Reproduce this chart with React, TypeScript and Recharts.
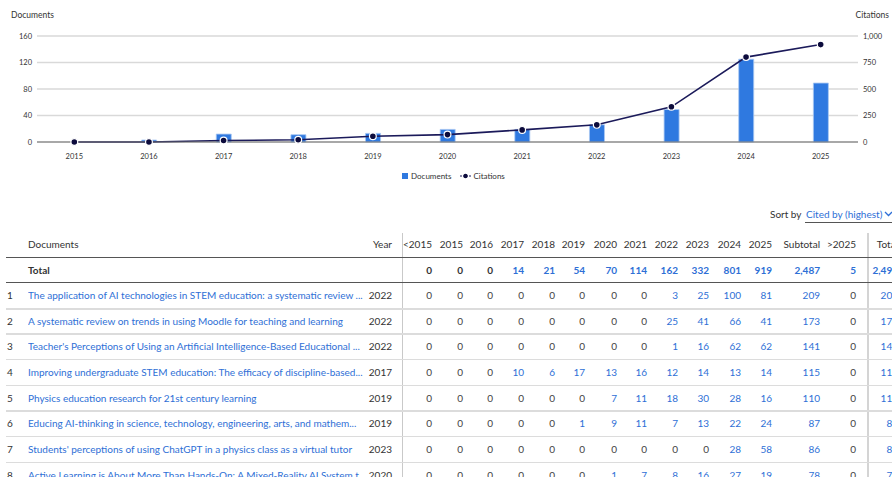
import React from "react";
import { ComposedChart, Bar, Line, XAxis, YAxis, CartesianGrid } from "recharts";

const years = ["2015", "2016", "2017", "2018", "2019", "2020", "2021", "2022", "2023", "2024", "2025"];
const documents = [0, 3, 12, 11, 13, 19, 19, 26, 49, 125, 89];
const citations = [0, 0, 14, 21, 54, 70, 114, 162, 332, 801, 919];
const docTicks = [0, 40, 80, 120, 160];
const citeTicks = [0, 250, 500, 750, 1000];

const tableColumns = ["<2015", "2015", "2016", "2017", "2018", "2019", "2020", "2021", "2022", "2023", "2024", "2025", "Subtotal", ">2025", "Total"];
const totalRow = [0, 0, 0, 14, 21, 54, 70, 114, 162, 332, 801, 919, 2487, 5, 2492];
const docTitles = [
  "The application of AI technologies in STEM education: a systematic review ...",
  "A systematic review on trends in using Moodle for teaching and learning",
  "Teacher's Perceptions of Using an Artificial Intelligence-Based Educational ...",
  "Improving undergraduate STEM education: The efficacy of discipline-based...",
  "Physics education research for 21st century learning",
  "Educing AI-thinking in science, technology, engineering, arts, and mathem...",
  "Students' perceptions of using ChatGPT in a physics class as a virtual tutor",
  "Active Learning is About More Than Hands-On: A Mixed-Reality AI System t...",
];
const docYears = [2022, 2022, 2022, 2017, 2019, 2019, 2023, 2020];
const docCounts = [
  [0, 0, 0, 0, 0, 0, 0, 0, 3, 25, 100, 81, 209, 0, 209],
  [0, 0, 0, 0, 0, 0, 0, 0, 25, 41, 66, 41, 173, 0, 173],
  [0, 0, 0, 0, 0, 0, 0, 0, 1, 16, 62, 62, 141, 0, 141],
  [0, 0, 0, 10, 6, 17, 13, 16, 12, 14, 13, 14, 115, 0, 115],
  [0, 0, 0, 0, 0, 0, 7, 11, 18, 30, 28, 16, 110, 0, 110],
  [0, 0, 0, 0, 0, 1, 9, 11, 7, 13, 22, 24, 87, 0, 87],
  [0, 0, 0, 0, 0, 0, 0, 0, 0, 0, 28, 58, 86, 0, 86],
  [0, 0, 0, 0, 0, 0, 1, 7, 8, 16, 27, 19, 78, 0, 78],
];

const chartData = years.map((year, i) => ({
  year,
  documents: documents[i],
  citations: citations[i],
}));

const BLUE = "#2f79e0";
const NAVY = "#1b1a5a";
const LINK = "#2e6fd6";
const TEXT = "#333333";
const FONT = "Lato, 'Liberation Sans', sans-serif";

// right edge of each numeric column in the table
const colRight = [432, 463, 493, 524, 555, 585, 617, 647, 678, 709, 741, 772, 820, 856, 898];
const ROW_H = 25.65;
const HEAD_Y = 244;
const TOTAL_Y = 269.5;
const FIRST_ROW_Y = 295;

const fmt = (v: number) => v.toLocaleString("en-US");

const Cell = ({ right, y, children, color = TEXT, bold = false }: any) => (
  <div
    style={{
      position: "absolute",
      left: right - 70,
      width: 70,
      top: y - 8,
      height: 16,
      lineHeight: "16px",
      textAlign: "right",
      fontSize: 10,
      color,
      fontWeight: bold ? 700 : 400,
      whiteSpace: "nowrap",
    }}
  >
    {children}
  </div>
);

const HLine = ({ y, color, thick = 1 }: { y: number; color: string; thick?: number }) => (
  <div style={{ position: "absolute", left: 6, right: 0, top: y, height: thick, background: color }} />
);

const Chart = () => (
  <ComposedChart
    width={892}
    height={160}
    data={chartData}
    margin={{ top: 36, right: 0, left: 0, bottom: 0 }}
    barCategoryGap={0}
  >
    <CartesianGrid yAxisId="left" vertical={false} stroke="#d9d9d9" strokeWidth={1.5} />
    <XAxis
      dataKey="year"
      height={18}
      tickLine={false}
      tickMargin={6}
      axisLine={{ stroke: "#6f6f6f", strokeWidth: 1 }}
      tick={{ fontSize: 7.5, fill: TEXT, fontFamily: FONT }}
      interval={0}
    />
    <YAxis
      yAxisId="left"
      width={37}
      domain={[0, 160]}
      ticks={docTicks}
      tickLine={false}
      axisLine={false}
      tickSize={3}
      tickMargin={2}
      tick={{ fontSize: 7.5, fill: TEXT, fontFamily: FONT }}
    />
    <YAxis
      yAxisId="right"
      orientation="right"
      width={34}
      domain={[0, 1000]}
      ticks={citeTicks}
      tickLine={false}
      axisLine={false}
      tickSize={3}
      tickMargin={2}
      tickFormatter={fmt}
      tick={{ fontSize: 7.5, fill: TEXT, fontFamily: FONT }}
    />
    <Bar
      yAxisId="left"
      dataKey="documents"
      name="Documents"
      fill={BLUE}
      stroke="#a9c8f3"
      strokeWidth={0.8}
      barSize={15}
      isAnimationActive={false}
    />
    <Line
      yAxisId="right"
      type="linear"
      dataKey="citations"
      name="Citations"
      stroke={NAVY}
      strokeWidth={1.6}
      dot={{ r: 3.4, fill: "#0c0b3c", stroke: "#ffffff", strokeWidth: 1.2 }}
      isAnimationActive={false}
    />
  </ComposedChart>
);

export default function App() {
  return (
    <div
      style={{
        position: "absolute",
        left: 0,
        top: 0,
        width: 892,
        height: 477,
        overflow: "hidden",
        background: "#fff",
        fontFamily: FONT,
        color: TEXT,
      }}
    >
      <div style={{ position: "absolute", left: 0, top: 0 }}>
        <Chart />
      </div>
      <div style={{ position: "absolute", left: 11, top: 10, fontSize: 8.5, color: TEXT }}>Documents</div>
      <div style={{ position: "absolute", right: 3, top: 10, fontSize: 8.5, color: TEXT }}>Citations</div>

      {/* legend */}
      <div style={{ position: "absolute", left: 402, top: 170, fontSize: 8, color: TEXT, display: "flex", alignItems: "center", height: 12 }}>
        <span style={{ width: 6, height: 6, background: BLUE, display: "inline-block", marginRight: 3 }} />
        <span style={{ marginRight: 9 }}>Documents</span>
        <svg width={11} height={6} style={{ marginRight: 2 }}>
          <line x1={0} y1={3} x2={11} y2={3} stroke={NAVY} strokeWidth={1} strokeDasharray="2 1" />
          <circle cx={5.5} cy={3} r={2.2} fill="#0c0b3c" />
        </svg>
        <span>Citations</span>
      </div>

      {/* sort by */}
      <div style={{ position: "absolute", left: 770, top: 206, fontSize: 10, color: TEXT, lineHeight: "16px" }}>Sort by</div>
      <div style={{ position: "absolute", left: 806, top: 206, fontSize: 10, color: LINK, lineHeight: "16px", whiteSpace: "nowrap" }}>
        Cited by (highest)
      </div>
      <svg style={{ position: "absolute", left: 884, top: 211 }} width={9} height={6}>
        <polyline points="1,1 4.5,4.5 8,1" fill="none" stroke={LINK} strokeWidth={1.3} />
      </svg>
      <div style={{ position: "absolute", left: 805, right: 0, top: 222, height: 1, background: "#555" }} />

      {/* table lines */}
      <div style={{ position: "absolute", left: 402, top: 233, bottom: 0, width: 1, background: "#c9c9c9" }} />
      <div style={{ position: "absolute", left: 867, top: 233, bottom: 0, width: 2, background: "#d4d4d4" }} />
      <HLine y={257} color="#555555" />
      <HLine y={282} color="#555555" />
      {docTitles.map((_, i) => (
        <HLine key={i} y={282 + ROW_H * (i + 1)} color="#dcdcdc" thick={i === 0 ? 2 : 1.5} />
      ))}

      {/* header */}
      <div style={{ position: "absolute", left: 28, top: HEAD_Y - 8, fontSize: 10, lineHeight: "16px" }}>Documents</div>
      <Cell right={392} y={HEAD_Y}>Year</Cell>
      {tableColumns.map((c, j) => (
        <Cell key={c} right={colRight[j]} y={HEAD_Y}>
          {c}
        </Cell>
      ))}

      {/* total row */}
      <div style={{ position: "absolute", left: 28, top: TOTAL_Y - 8, fontSize: 10, lineHeight: "16px", fontWeight: 700 }}>Total</div>
      {totalRow.map((v, j) => (
        <Cell key={j} right={colRight[j]} y={TOTAL_Y} bold color={v === 0 ? TEXT : LINK}>
          {fmt(v)}
        </Cell>
      ))}

      {/* document rows */}
      {docTitles.map((title, i) => {
        const y = FIRST_ROW_Y + ROW_H * i;
        return (
          <React.Fragment key={title}>
            <div style={{ position: "absolute", left: 7, top: y - 8, fontSize: 10, lineHeight: "16px" }}>{i + 1}</div>
            <div
              style={{
                position: "absolute",
                left: 28,
                top: y - 8,
                width: 335,
                overflow: "hidden",
                whiteSpace: "nowrap",
                fontSize: 10,
                lineHeight: "16px",
                color: LINK,
              }}
            >
              {title}
            </div>
            <Cell right={392} y={y}>{docYears[i]}</Cell>
            {docCounts[i].map((v, j) => (
              <Cell key={j} right={colRight[j]} y={y} color={v === 0 ? "#444" : LINK}>
                {fmt(v)}
              </Cell>
            ))}
          </React.Fragment>
        );
      })}
    </div>
  );
}
